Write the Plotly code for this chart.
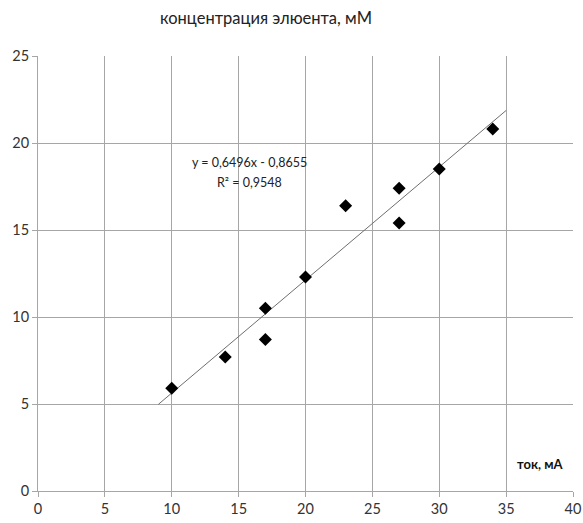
import plotly.graph_objects as go

current_ma = [10, 14, 17, 17, 20, 23, 27, 27, 30, 34]
concentration_mm = [5.9, 7.7, 8.7, 10.5, 12.3, 16.4, 17.4, 15.4, 18.5, 20.8]
slope = 0.6496
intercept = -0.8655
r2 = 0.9548
trend_x = [9, 35]
trend_y = [slope * x + intercept for x in trend_x]
x_ticks = [0, 5, 10, 15, 20, 25, 30, 35, 40]
y_ticks = [0, 5, 10, 15, 20, 25]

font = "Lato, Open Sans, sans-serif"

def fmt(v):
    return str(v).replace(".", ",")

fig = go.Figure()
fig.add_trace(go.Scatter(x=trend_x, y=trend_y, mode="lines",
                         line=dict(color="#6e6e6e", width=1), hoverinfo="skip"))
fig.add_trace(go.Scatter(x=current_ma, y=concentration_mm, mode="markers",
                         marker=dict(symbol="diamond", size=10, color="black")))

fig.update_layout(
    width=583, height=523,
    margin=dict(l=38, r=10, t=56, b=32, autoexpand=False),
    paper_bgcolor="white", plot_bgcolor="white",
    showlegend=False,
    font=dict(family=font, size=13, color="#222"),
    annotations=[
        dict(text="концентрация элюента, мМ", xref="paper", yref="paper",
             x=0.426, y=1.0, yshift=38, xanchor="center", yanchor="middle",
             showarrow=False, font=dict(size=16.5, family=font, color="#222")),
        dict(text="<b>ток, мА</b>", xref="x", yref="y", x=37.6, y=1.55,
             xanchor="center", yanchor="middle", showarrow=False,
             font=dict(size=13, family=font, color="#111")),
        dict(text=f"y = {fmt(slope)}x - {fmt(-intercept)}",
             xref="x", yref="y", x=15.78, y=18.33, yshift=10,
             xanchor="center", yanchor="middle", showarrow=False,
             font=dict(size=12.5, family=font, color="#222")),
        dict(text=f"R² = {fmt(r2)}",
             xref="x", yref="y", x=15.78, y=18.33, yshift=-10,
             xanchor="center", yanchor="middle", showarrow=False,
             font=dict(size=12.5, family=font, color="#222")),
    ],
)
fig.update_xaxes(range=[0, 40], tickvals=x_ticks, showgrid=True, gridcolor="#a6a6a6",
                 gridwidth=1, zeroline=False, showline=True, linecolor="#a6a6a6",
                 ticks="outside", ticklen=5, tickcolor="#a6a6a6", automargin=False,
                 tickfont=dict(size=14.5, family=font, color="#333"))
fig.update_yaxes(range=[0, 25], tickvals=y_ticks, showgrid=True, gridcolor="#a6a6a6",
                 gridwidth=1, zeroline=False, showline=True, linecolor="#a6a6a6",
                 ticks="outside", ticklen=5, tickcolor="#a6a6a6", automargin=False,
                 tickfont=dict(size=14.5, family=font, color="#333"))
fig.write_html("out.html", config={"displayModeBar": False},
               post_script="document.body.style.margin='0';document.body.style.overflow='hidden';")
